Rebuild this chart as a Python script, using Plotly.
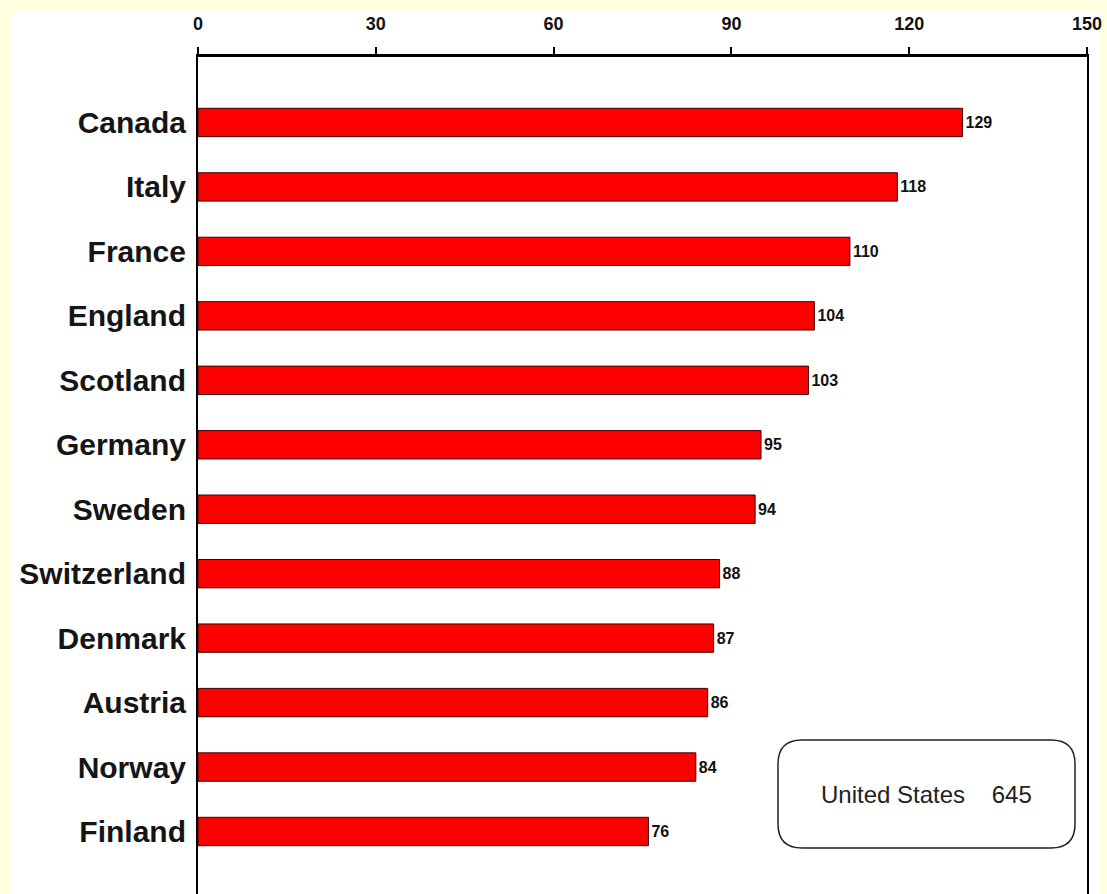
import plotly.graph_objects as go

countries = ["Canada", "Italy", "France", "England", "Scotland", "Germany",
             "Sweden", "Switzerland", "Denmark", "Austria", "Norway", "Finland"]
values = [129, 118, 110, 104, 103, 95, 94, 88, 87, 86, 84, 76]
x_ticks = [0, 30, 60, 90, 120, 150]
us_label = "United States"
us_value = 645

W, H = 1107, 894
L, R, T, B = 198, 20, 57, 0
pw, ph = W - L - R, H - T - B

fig = go.Figure()
fig.add_trace(go.Bar(
    x=values, y=countries, orientation="h",
    marker=dict(color="#FF0000", line=dict(color="#3a0000", width=1)),
    width=0.44,
    text=[str(v) for v in values], textposition="outside",
    textfont=dict(family="Liberation Sans, Arial", size=16, color="#111111", weight="bold"),
    cliponaxis=False,
))

# white card over yellow page
fig.add_shape(type="rect", xref="paper", yref="paper",
              x0=(12 - L) / pw, x1=(1100 - L) / pw, y0=-0.02, y1=(H - 11) / ph,
              fillcolor="white", line=dict(width=0), layer="below")

def px_to_x(px):
    return (px - L) / pw * 150.0

y_top_rng, y_bot_rng = -1.016, 11.97
def py_to_y(py):
    return y_top_rng + (py - T) / ph * (y_bot_rng - y_top_rng)

bx0, bx1 = px_to_x(778), px_to_x(1075)
by0, by1 = py_to_y(740), py_to_y(848)
rx = 24 / pw * 150.0
ry = 24 / ph * (y_bot_rng - y_top_rng)
path = (f"M {bx0+rx},{by0} L {bx1-rx},{by0} Q {bx1},{by0} {bx1},{by0+ry} "
        f"L {bx1},{by1-ry} Q {bx1},{by1} {bx1-rx},{by1} "
        f"L {bx0+rx},{by1} Q {bx0},{by1} {bx0},{by1-ry} "
        f"L {bx0},{by0+ry} Q {bx0},{by0} {bx0+rx},{by0} Z")
fig.add_shape(type="path", path=path, xref="x", yref="y",
              line=dict(color="#222222", width=1.5), fillcolor="white")
fig.add_annotation(x=(bx0 + bx1) / 2, y=(by0 + by1) / 2, xref="x", yref="y",
                   text=f"{us_label}&nbsp;&nbsp;&nbsp;&nbsp;{us_value}", showarrow=False,
                   font=dict(family="Liberation Sans, Arial", size=24, color="#222222"))

fig.update_layout(
    width=W, height=H,
    margin=dict(l=L, r=R, t=T, b=B, pad=0),
    paper_bgcolor="#FFFFE0", plot_bgcolor="white",
    showlegend=False,
    bargap=0.56,
)
fig.update_xaxes(
    side="top", range=[0, 150], tickvals=x_ticks, ticktext=[str(t) for t in x_ticks],
    showgrid=False, zeroline=False,
    showline=True, linecolor="black", linewidth=3,
    ticks="outside", ticklen=7, tickwidth=2, tickcolor="black",
    tickfont=dict(family="Liberation Sans, Arial", size=18, color="#111111", weight="bold"),
    ticklabelstandoff=10,
)
fig.update_yaxes(
    categoryorder="array", categoryarray=countries,
    range=[y_bot_rng, y_top_rng],
    showgrid=False, zeroline=False,
    showline=True, linecolor="black", linewidth=2, mirror=True,
    ticks="", ticklabelstandoff=4,
    tickfont=dict(family="Liberation Sans, Arial", size=30, color="#151515", weight="bold"),
)

fig.write_html("out.html")
